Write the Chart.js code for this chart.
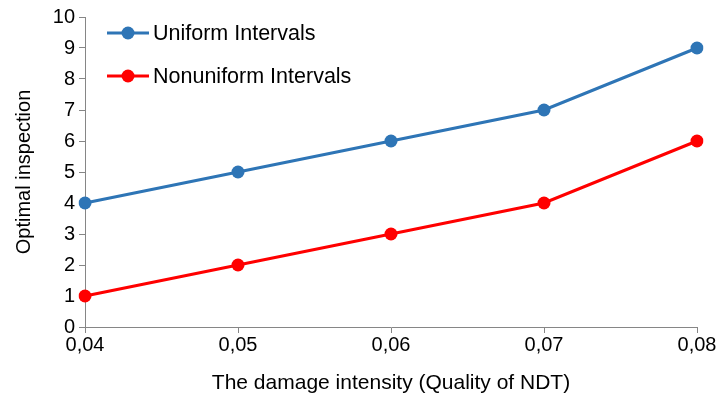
<!DOCTYPE html>
<html>
<head>
<meta charset="utf-8">
<script src="https://cdn.jsdelivr.net/npm/chart.js@4"></script>
<style>
  html, body { margin: 0; padding: 0; background: #fff; }
  #wrap { width: 718px; height: 396px; }
</style>
</head>
<body>
<div id="wrap"><canvas id="chart" width="718" height="396"></canvas></div>
<script>
const intensity = ['0,04', '0,05', '0,06', '0,07', '0,08'];
const uniform = [4, 5, 6, 7, 9];
const nonuniform = [1, 2, 3, 4, 6];

const axisGray = '#868686';
const family = 'Liberation Sans, Arial, sans-serif';
const tickFont = { family, size: 20 };
const titleFont = { family, size: 21 };

// legend drawn inside the plot, top-left
const innerLegend = {
  id: 'innerLegend',
  afterDraw(chart) {
    const c = chart.ctx;
    const x0 = chart.chartArea.left + 22;
    chart.data.datasets.forEach((ds, i) => {
      const y = chart.chartArea.top + 16 + i * 43;
      c.save();
      c.strokeStyle = ds.borderColor;
      c.lineWidth = 3;
      c.beginPath();
      c.moveTo(x0, y);
      c.lineTo(x0 + 42, y);
      c.stroke();
      c.fillStyle = ds.borderColor;
      c.beginPath();
      c.arc(x0 + 21, y, 6.5, 0, Math.PI * 2);
      c.fill();
      c.fillStyle = '#000';
      c.font = '21.5px ' + family;
      c.textBaseline = 'middle';
      c.fillText(ds.label, x0 + 46, y + 1);
      c.restore();
    });
  }
};

new Chart(document.getElementById('chart'), {
  type: 'line',
  data: {
    labels: intensity,
    datasets: [
      { label: 'Uniform Intervals', data: uniform, borderColor: '#2E75B6', backgroundColor: '#2E75B6' },
      { label: 'Nonuniform Intervals', data: nonuniform, borderColor: '#FF0000', backgroundColor: '#FF0000' }
    ]
  },
  options: {
    responsive: false,
    animation: false,
    layout: { padding: { top: 17, right: 21, left: 12, bottom: 0 } },
    elements: {
      line: { borderWidth: 3, tension: 0 },
      point: { radius: 6.5, hoverRadius: 6.5, borderWidth: 0 }
    },
    plugins: { legend: { display: false }, tooltip: { enabled: false } },
    scales: {
      x: {
        offset: false,
        grid: { display: true, drawOnChartArea: false, color: axisGray, tickLength: 6, offset: false },
        border: { color: axisGray, width: 1 },
        ticks: { color: '#000', font: tickFont, padding: 0, maxRotation: 0 },
        title: { display: true, text: 'The damage intensity (Quality of NDT)', color: '#000', font: titleFont, padding: { top: 6, bottom: 0 } },
        afterFit(s) { s.height = 69; }
      },
      y: {
        min: 0, max: 10,
        grid: { display: true, drawOnChartArea: false, color: axisGray, tickLength: 6 },
        border: { color: axisGray, width: 1 },
        ticks: { stepSize: 1, color: '#000', font: tickFont, padding: 4 },
        title: { display: true, text: 'Optimal inspection', color: '#000', font: { family, size: 20 }, padding: { top: 0, bottom: 4 } },
        afterFit(s) { s.width = 73; }
      }
    }
  },
  plugins: [innerLegend]
});
</script>
</body>
</html>
